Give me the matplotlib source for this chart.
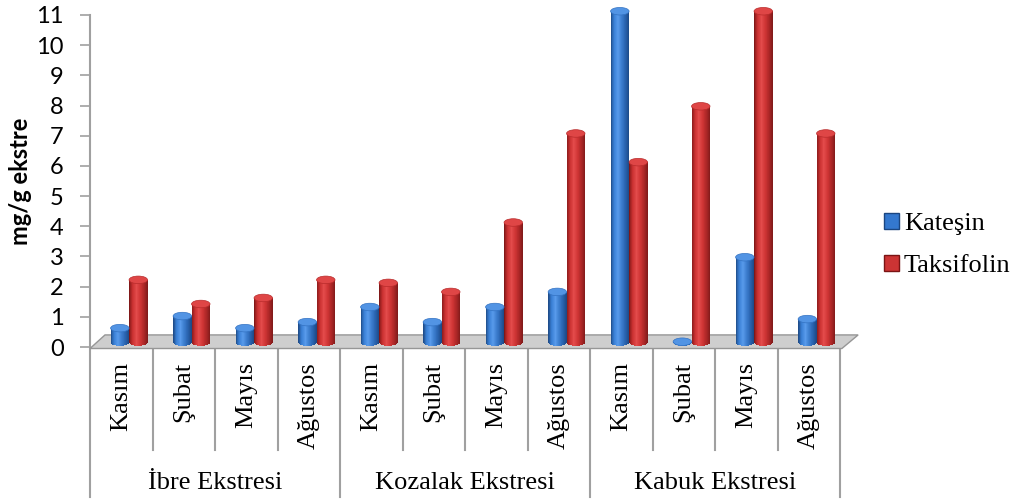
import numpy as np
import matplotlib.pyplot as plt
import matplotlib.transforms as mtransforms
from matplotlib.patches import Ellipse, Polygon, Patch
from matplotlib.colors import LinearSegmentedColormap

# Kateşin / taksifolin contents (mg/g extract) per extract and month
groups = ['İbre Ekstresi', 'Kozalak Ekstresi', 'Kabuk Ekstresi']
months = ['Kasım', 'Şubat', 'Mayıs', 'Ağustos']
katesin = [0.5, 0.9, 0.5, 0.7, 1.2, 0.7, 1.2, 1.7, 11.0, 0.05, 2.85, 0.8]
taksifolin = [2.1, 1.3, 1.5, 2.1, 2.0, 1.7, 4.0, 6.95, 6.0, 7.85, 11.0, 6.95]
series_names = ['Kateşin', 'Taksifolin']
yticks = list(range(0, 12))

plt.rcParams['font.family'] = ['Lato', 'DejaVu Sans']
serif = 'Liberation Serif'

blue_cm = LinearSegmentedColormap.from_list(
    'blue_cyl', ['#1d4a86', '#3a80d6', '#5a9cec', '#3b7ccd', '#2a64b0', '#1c4884'])
red_cm = LinearSegmentedColormap.from_list(
    'red_cyl', ['#7c1616', '#cc3232', '#e44c4c', '#cf3535', '#b02828', '#801a1a'])

W, H = 1021, 499
fig = plt.figure(figsize=(W / 100, H / 100), dpi=100)
ax = fig.add_axes([90 / W, 152 / H, 750 / W, 332 / H])
ax.set_xlim(0, 12)
ax.set_ylim(0, 11)

BASE = 0.16   # bars stand a little back on the floor
CAP = 0.25    # height of the elliptical top


def cylinder(x0, w, value, cmap, n=40):
    edges = np.linspace(x0, x0 + w, n + 1)
    t = (np.arange(n) + 0.5) / n
    sag = CAP / 2 * np.sqrt(1 - (2 * t - 1) ** 2)
    top = value + CAP / 2
    bottoms = BASE - sag
    ax.bar(edges[:-1], top - bottoms, width=w / n * 1.05, bottom=bottoms,
           align='edge', color=cmap(t), linewidth=0, zorder=3, clip_on=False)
    ax.add_patch(Ellipse((x0 + w / 2, top), w, CAP, facecolor=cmap(0.45),
                         edgecolor=cmap(0.15), lw=0.5, zorder=4, clip_on=False))


# floor
floor = Polygon([(0.0, -0.05), (12.03, -0.05), (12.29, 0.40), (0.24, 0.40)],
                closed=True, facecolor='#cecece', edgecolor='#969696', lw=1.0,
                zorder=2, clip_on=False)
ax.add_patch(floor)

bw = 0.295
for i, (k, t) in enumerate(zip(katesin, taksifolin)):
    cylinder(i + 0.33, bw, k, blue_cm)
    cylinder(i + 0.33 + bw, bw, t, red_cm)

# axes styling
for s in ['top', 'right', 'bottom', 'left']:
    ax.spines[s].set_visible(False)
ax.set_xticks([])
ax.set_yticks(yticks)
ax.tick_params(axis='y', length=7, width=1.2, color='#a0a0a0', pad=12,
               labelsize=17, direction='out')

trans = mtransforms.blended_transform_factory(ax.transData, ax.transAxes)
line_kw = dict(color='#a0a0a0', lw=1.5, transform=trans, clip_on=False, zorder=1)
ax.plot([0, 0], [1.0, -0.452], **line_kw)
for i in range(1, 13):
    low = -0.452 if i % 4 == 0 else -0.31
    ax.plot([i, i], [0, low], **line_kw)

# category labels
for i in range(12):
    ax.text(i + 0.5, -0.045, months[i % 4], rotation=90, ha='center', va='top',
            fontsize=19, family=serif, transform=trans)
for g, name in enumerate(groups):
    ax.text(g * 4 + 2, -0.41, name, ha='center', va='center', fontsize=19,
            family=serif, transform=trans)

fig.text(20 / W, (H - 181) / H, 'mg/g ekstre', rotation=90, ha='center',
         va='center', fontsize=17, fontweight='bold')

handles = [Patch(facecolor='#3478cf', edgecolor='#1b4681', lw=1),
           Patch(facecolor='#cc3434', edgecolor='#7a1414', lw=1)]
ax.legend(handles, series_names, loc='center left',
          bbox_to_anchor=(884 / W, (H - 245) / H), bbox_transform=fig.transFigure,
          frameon=False, prop={'family': serif, 'size': 19}, handlelength=0.55,
          handleheight=0.55, handletextpad=0.2, labelspacing=0.75,
          borderpad=0, borderaxespad=0)

fig.savefig('out.png', dpi=100)
